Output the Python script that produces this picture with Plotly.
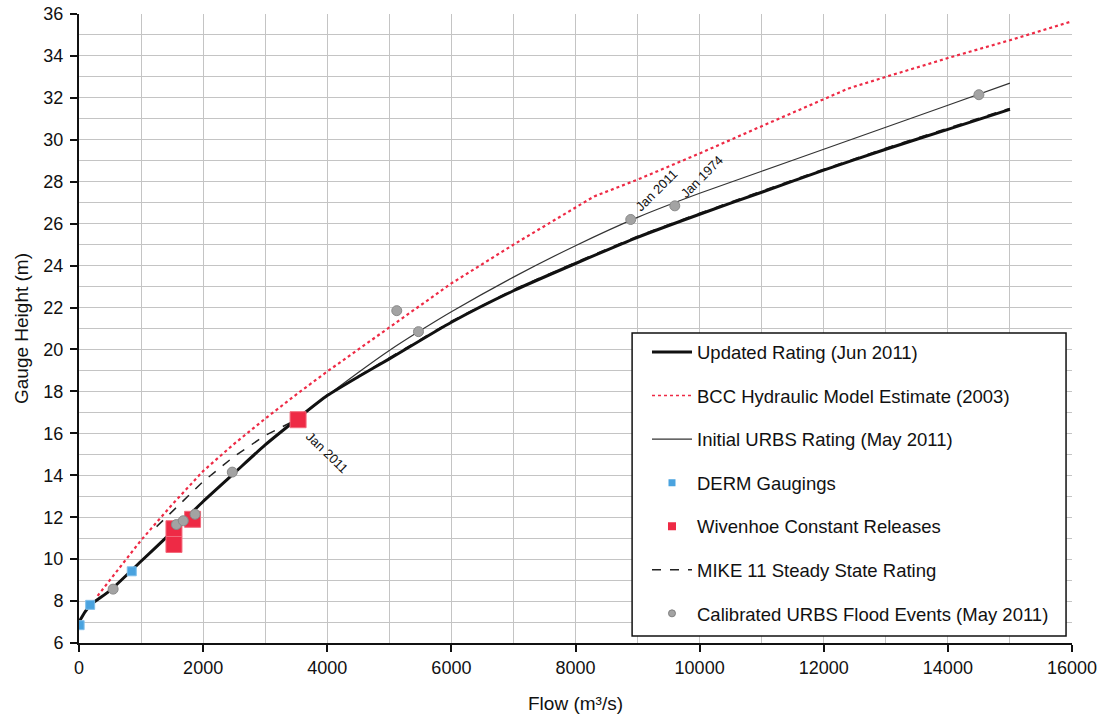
import plotly.graph_objects as go

# ---------------- data ----------------
updated_x = [0, 100, 200, 500, 1000, 1500, 2000, 2500, 3000, 3500, 4000, 4500, 5000,
             6000, 7000, 8000, 9000, 10000, 11000, 12000, 13000, 14000, 15000]
updated_y = [7.0, 7.5, 7.85, 8.5, 9.9, 11.3, 12.75, 14.1, 15.45, 16.65, 17.8, 18.7, 19.55,
             21.3, 22.8, 24.1, 25.35, 26.45, 27.5, 28.55, 29.55, 30.5, 31.45]

bcc_x = [300, 500, 1000, 1500, 2000, 2500, 3000, 3500, 4000, 5000, 6000, 7000, 8000,
         8300, 9000, 10000, 11000, 12000, 12400, 13000, 14000, 15000, 16000]
bcc_y = [8.25, 9.0, 10.9, 12.6, 14.2, 15.5, 16.7, 17.85, 18.95, 21.05, 23.15, 25.0, 26.8,
         27.3, 28.1, 29.35, 30.65, 31.95, 32.45, 33.0, 33.9, 34.75, 35.65]

urbs_x = [0, 100, 200, 500, 1000, 1500, 2000, 2500, 3000, 3500, 4000, 4500, 5000, 5500,
          6000, 7000, 8000, 9000, 10000, 11000, 12000, 13000, 14000, 15000]
urbs_y = [7.0, 7.5, 7.85, 8.5, 9.9, 11.3, 12.75, 14.1, 15.45, 16.65, 17.8, 18.9, 19.95, 20.9,
          21.8, 23.45, 24.95, 26.3, 27.45, 28.5, 29.55, 30.6, 31.65, 32.7]

mike_x = [1250, 1500, 2000, 2500, 3000, 3500, 4000, 5000, 6000, 7000, 8000, 9000, 10000,
          11000, 12000, 13000, 14000, 15000]
mike_y = [11.55, 12.25, 13.7, 14.9, 15.9, 16.65, 17.82, 19.6, 21.35, 22.85, 24.15, 25.4,
          26.5, 27.55, 28.6, 29.6, 30.55, 31.5]

derm_x = [10, 180, 850]
derm_y = [6.85, 7.82, 9.42]

wiv_x = [1530, 1530, 1830, 3530]
wiv_y = [11.45, 10.7, 11.9, 16.65]

urbs_ev_x = [550, 1570, 1680, 1870, 2470, 5120, 5470, 8890, 9600, 14500]
urbs_ev_y = [8.57, 11.65, 11.83, 12.14, 14.15, 21.85, 20.85, 26.2, 26.85, 32.15]

ann_text = ["Jan 2011", "Jan 2011", "Jan 1974"]
ann_x = [4000, 9300, 10040]
ann_y = [15.1, 27.6, 28.25]
ann_angle = [44, -45, -45]

legend_names = ["Updated Rating (Jun 2011)", "BCC Hydraulic Model Estimate (2003)",
                "Initial URBS Rating (May 2011)", "DERM Gaugings",
                "Wivenhoe Constant Releases", "MIKE 11 Steady State Rating",
                "Calibrated URBS Flood Events (May 2011)"]

x_ticks = [0, 2000, 4000, 6000, 8000, 10000, 12000, 14000, 16000]
y_ticks = [6, 8, 10, 12, 14, 16, 18, 20, 22, 24, 26, 28, 30, 32, 34, 36]

# ---------------- styles ----------------
FONT = "Liberation Sans, Arial, sans-serif"
RED = "#ee2a45"
BLUE = "#4aa3df"
GREY = "#a3a3a3"

fig = go.Figure()

# data traces (no legend)
fig.add_trace(go.Scatter(x=bcc_x, y=bcc_y, mode="lines", showlegend=False,
                         line=dict(color=RED, width=2.2, dash="dot")))
fig.add_trace(go.Scatter(x=urbs_x, y=urbs_y, mode="lines", showlegend=False,
                         line=dict(color="#333333", width=1.2, shape="spline", smoothing=0.6)))
fig.add_trace(go.Scatter(x=mike_x, y=mike_y, mode="lines", showlegend=False,
                         line=dict(color="#222222", width=1.5, dash="dash")))
fig.add_trace(go.Scatter(x=updated_x, y=updated_y, mode="lines", showlegend=False,
                         line=dict(color="#111111", width=3, shape="spline", smoothing=0.6)))
fig.add_trace(go.Scatter(x=derm_x, y=derm_y, mode="markers", showlegend=False,
                         marker=dict(symbol="square", size=9, color=BLUE,
                                     line=dict(color="#7fbfea", width=1))))
fig.add_trace(go.Scatter(x=wiv_x, y=wiv_y, mode="markers", showlegend=False,
                         marker=dict(symbol="square", size=16, color=RED,
                                     line=dict(color="#f36a7c", width=1))))
fig.add_trace(go.Scatter(x=urbs_ev_x, y=urbs_ev_y, mode="markers", showlegend=False,
                         marker=dict(symbol="circle", size=10, color=GREY,
                                     line=dict(color="#8a8a8a", width=1))))

# legend-only entries
leg_styles = [
    dict(mode="lines", line=dict(color="#111111", width=3)),
    dict(mode="lines", line=dict(color=RED, width=1.5, dash="dot")),
    dict(mode="lines", line=dict(color="#333333", width=1.2)),
    dict(mode="markers", marker=dict(symbol="square", size=7, color=BLUE)),
    dict(mode="markers", marker=dict(symbol="square", size=8, color=RED)),
    dict(mode="lines", line=dict(color="#222222", width=1.5, dash="dash")),
    dict(mode="markers", marker=dict(symbol="circle", size=7, color=GREY,
                                     line=dict(color="#808080", width=1))),
]
for i, (name, st) in enumerate(zip(legend_names, leg_styles)):
    fig.add_trace(go.Scatter(x=[None], y=[None], name=name, legendgroup=f"g{i}",
                             showlegend=True, **st))

for t, xv, yv, a in zip(ann_text, ann_x, ann_y, ann_angle):
    fig.add_annotation(x=xv, y=yv, text=t, showarrow=False, textangle=a,
                       font=dict(family=FONT, size=13, color="#111111"))

# legend frame
fig.add_shape(type="rect", xref="paper", yref="paper", x0=0.557, x1=0.994, y0=0.011, y1=0.493,
              fillcolor="white", line=dict(color="#111111", width=1.5), layer="above")

grid_col = "#c4c4c4"
fig.update_layout(
    width=1111, height=717,
    margin=dict(l=79, r=39, t=14, b=74, autoexpand=False),
    paper_bgcolor="white", plot_bgcolor="white",
    font=dict(family=FONT, size=17, color="#111111"),
    showlegend=True,
    legend=dict(x=0.572, y=0.492, xanchor="left", yanchor="top",
                bgcolor="rgba(0,0,0,0)", borderwidth=0,
                font=dict(family=FONT, size=18.5, color="#111111"),
                tracegroupgap=16.5, traceorder="grouped", itemwidth=40),
    xaxis=dict(range=[0, 16000], tickvals=x_ticks, ticktext=[str(v) for v in x_ticks],
               showgrid=True, gridcolor=grid_col, gridwidth=1, automargin=False,
               minor=dict(dtick=1000, showgrid=True, gridcolor=grid_col, gridwidth=1),
               showline=True, linecolor="#111111", linewidth=2,
               ticks="outside", ticklen=7, tickwidth=1.5, tickcolor="#111111",
               zeroline=False, tickfont=dict(size=18),
               title=dict(text="Flow (m³/s)", font=dict(size=19), standoff=20)),
    yaxis=dict(range=[6, 36], tickvals=y_ticks, ticktext=[str(v) for v in y_ticks],
               showgrid=True, gridcolor=grid_col, gridwidth=1, automargin=False,
               minor=dict(dtick=1, showgrid=True, gridcolor=grid_col, gridwidth=1),
               showline=True, linecolor="#111111", linewidth=2,
               ticks="outside", ticklen=7, tickwidth=1.5, tickcolor="#111111",
               zeroline=False, tickfont=dict(size=18), ticklabelstandoff=3,
               title=dict(text="Gauge Height (m)", font=dict(size=19), standoff=10)),
)

fig.write_html("out.html")
